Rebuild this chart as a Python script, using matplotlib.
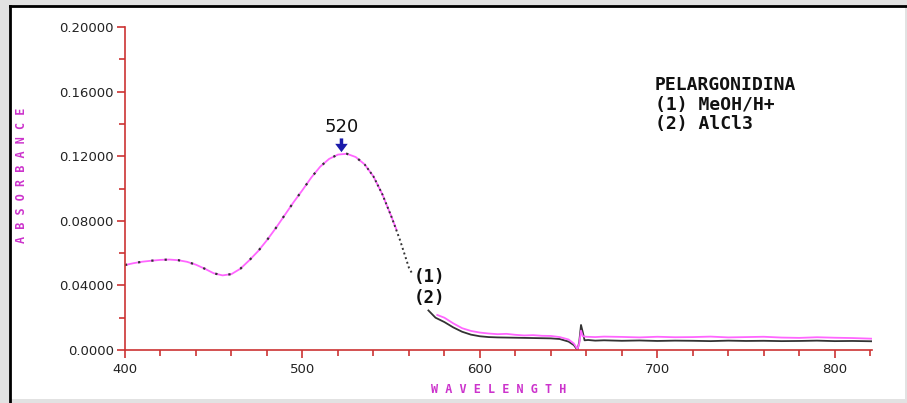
import numpy as np
import matplotlib.pyplot as plt
from matplotlib.patches import Rectangle
from matplotlib.lines import Line2D

# band I region (both spectra overlap)
wl_a = [400, 405, 410, 415, 420, 425, 430, 435, 440, 445, 450, 455, 460, 465, 470,
        475, 480, 485, 490, 495, 500, 505, 510, 515, 520, 525, 530, 535, 540, 545, 550, 553]
meoh_a = [0.0526, 0.0538, 0.0547, 0.0553, 0.0558, 0.0560, 0.0556, 0.0546, 0.0528, 0.0503,
          0.0475, 0.0462, 0.0470, 0.0503, 0.0555, 0.0612, 0.0680, 0.0755, 0.0835, 0.0915,
          0.0990, 0.1068, 0.1135, 0.1183, 0.1210, 0.1215, 0.1195, 0.1150, 0.1075, 0.0965,
          0.0830, 0.0745]
# AlCl3 dotted over it, denser dots on the descending side
wl_b1 = wl_a[:28]
alcl_b1 = meoh_a[:28]
wl_b2 = [535, 540, 545, 550, 555, 560, 562]
alcl_b2 = [0.1150, 0.1075, 0.0965, 0.0830, 0.0680, 0.0510, 0.0470]

# tail region
wl_m = [576, 580, 585, 590, 595, 600, 605, 610, 615, 620, 625, 630, 635, 640, 645, 650,
        653, 655, 656, 657, 658, 660, 665, 670, 680, 690, 700, 710, 720, 730, 740, 750,
        760, 770, 780, 790, 800, 810, 821]
meoh_t = [0.0217, 0.0200, 0.0165, 0.0135, 0.0118, 0.0108, 0.0102, 0.0098, 0.0100, 0.0094,
          0.0090, 0.0092, 0.0088, 0.0087, 0.0080, 0.0065, 0.0040, 0.0005, 0.0040, 0.0120,
          0.0085, 0.0082, 0.0080, 0.0083, 0.0081, 0.0078, 0.0082, 0.0079, 0.0080, 0.0083,
          0.0078, 0.0080, 0.0082, 0.0077, 0.0075, 0.0079, 0.0076, 0.0074, 0.0070]
wl_k = [571, 575, 580, 585, 590, 595, 600, 605, 610, 620, 630, 640, 645, 650, 653, 655,
        656, 657, 658, 659, 661, 665, 670, 680, 690, 700, 710, 720, 730, 740, 750, 760,
        770, 780, 790, 800, 810, 821]
alcl_t = [0.0245, 0.0200, 0.0173, 0.0140, 0.0113, 0.0095, 0.0085, 0.0080, 0.0078, 0.0076,
          0.0074, 0.0072, 0.0068, 0.0052, 0.0030, 0.0000, 0.0050, 0.0155, 0.0110, 0.0060,
          0.0062, 0.0058, 0.0060, 0.0057, 0.0059, 0.0056, 0.0058, 0.0057, 0.0055, 0.0058,
          0.0056, 0.0057, 0.0055, 0.0056, 0.0058, 0.0055, 0.0056, 0.0054]

yticks = [0.0, 0.04, 0.08, 0.12, 0.16, 0.20]
ylabels = ['0.0000', '0.04000', '0.08000', '0.12000', '0.16000', '0.20000']
xticks = [400, 500, 600, 700, 800]

pink = '#ff66ff'
red = '#cc3333'
mag = '#cc33cc'

fig = plt.figure(figsize=(9.07, 4.03), dpi=100)
fig.patch.set_facecolor('#e2e2e2')
fig.patches.append(Rectangle((10/907, 4/403), 895/907, 392/403, transform=fig.transFigure,
                             facecolor='white', edgecolor='none', zorder=-10))
fig.lines.append(Line2D([9.5/907, 9.5/907], [0, 397.5/403], transform=fig.transFigure, color='black', lw=2, zorder=-5))
fig.lines.append(Line2D([9.5/907, 1], [397.5/403, 397.5/403], transform=fig.transFigure, color='black', lw=2, zorder=-5))

ax = fig.add_axes([125/907, 1-350/403, 747/907, 323/403])
ax.set_facecolor('none')

ax.plot(wl_a, meoh_a, color=pink, lw=1.3)
ax.plot(wl_b1, alcl_b1, color='#333333', lw=1.6, ls=(0, (1, 5)))
ax.plot(wl_b2, alcl_b2, color='#333333', lw=1.4, ls=(0, (1, 1.5)))
ax.plot(wl_k, alcl_t, color='#333333', lw=1.3)
ax.plot(wl_m, meoh_t, color=pink, lw=1.3)

ax.set_xlim(400, 821)
ax.set_ylim(0, 0.2)
for s in ['top', 'right']:
    ax.spines[s].set_visible(False)
for s in ['left', 'bottom']:
    ax.spines[s].set_color(red)
    ax.spines[s].set_linewidth(1.2)

ax.set_yticks(yticks)
ax.set_yticklabels(ylabels)
ax.set_yticks(np.arange(0.02, 0.2, 0.04), minor=True)
ax.set_xticks(xticks)
ax.set_xticks(np.arange(420, 821, 20), minor=True)
ax.tick_params(which='major', color=red, length=6, width=1.2, labelsize=9.5, labelcolor='#222222')
ax.tick_params(which='minor', color=red, length=4, width=1.2)
ax.tick_params(axis='y', pad=2)

mono = {'family': 'DejaVu Sans Mono', 'weight': 'bold'}
ax.set_xlabel('W A V E L E N G T H', color=mag, fontsize=8.5, fontfamily='DejaVu Sans Mono',
              fontweight='bold', labelpad=5)
ax.set_ylabel('A B S O R B A N C E', color=mag, fontsize=8.5, fontfamily='DejaVu Sans Mono',
              fontweight='bold')
ax.yaxis.set_label_coords(-0.13, 0.542)

ax.annotate('', xy=(522, 0.1225), xytext=(522, 0.131),
            arrowprops=dict(width=2.5, headwidth=9, headlength=6, color='#1a1aaa', lw=0))
ax.text(522, 0.1325, '520', ha='center', va='bottom', fontsize=13, color='#111111')

ax.text(562.5, 0.0455, '(1)', ha='left', va='center', fontsize=12.5, color='#111111', **mono)
ax.text(563, 0.032, '(2)', ha='left', va='center', fontsize=12.5, color='#111111', **mono)

ax.text(698.5, 0.1695, 'PELARGONIDINA\n(1) MeOH/H+\n(2) AlCl3', ha='left', va='top',
        fontsize=13, color='#111111', linespacing=1.1, **mono)

fig.savefig('out.png', dpi=100, facecolor=fig.get_facecolor())
